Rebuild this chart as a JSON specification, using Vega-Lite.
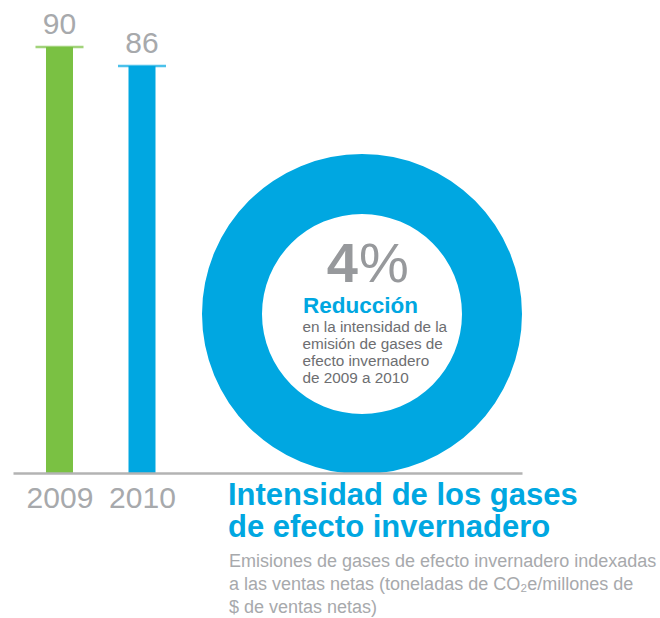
{
  "$schema": "https://vega.github.io/schema/vega-lite/v6.json",
  "width": 596,
  "height": 318,
  "autosize": {"type": "none"},
  "padding": {"left": 64, "top": 155, "right": 0, "bottom": 145},
  "background": "white",
  "config": {"view": {"stroke": null}, "font": "Liberation Sans"},
  "data": {
    "values": [
      {"kind": "bar", "year": 2009, "value": 90},
      {"kind": "bar", "year": 2010, "value": 86},
      {
        "kind": "ring",
        "pct": 4,
        "big": "4",
        "sign": "%",
        "head": "Reducción",
        "body": "en la intensidad de la\nemisión de gases de\nefecto invernadero\nde 2009 a 2010",
        "title": "Intensidad de los gases\nde efecto invernadero",
        "sub": "Emisiones de gases de efecto invernadero indexadas\na las ventas netas (toneladas de CO₂e/millones de\n$ de ventas netas)"
      }
    ]
  },
  "layer": [
    {
      "transform": [{"filter": "datum.kind === 'ring'"}],
      "mark": {"type": "arc", "radius": 160, "innerRadius": 100, "color": "#00a7e1"},
      "encoding": {
        "theta": {"field": "pct", "type": "quantitative"}
      }
    },
    {
      "transform": [{"filter": "datum.kind === 'bar'"}],
      "mark": {"type": "bar", "width": 27, "orient": "vertical"},
      "encoding": {
        "x": {
          "field": "year",
          "type": "quantitative",
          "scale": {"domain": [2008.4364, 2014.6061], "range": [-51, 458], "nice": false, "zero": false, "padding": 0},
          "axis": {
            "values": [2009, 2010],
            "format": "d",
            "title": null,
            "grid": false,
            "ticks": false,
            "tickSize": 0,
            "domain": true,
            "domainColor": "#b3b3b3",
            "domainWidth": 2.5,
            "labelFont": "Liberation Sans",
            "labelFontSize": 30,
            "labelColor": "#a7a9ac",
            "labelBaseline": "alphabetic",
            "labelAlign": "center",
            "labelPadding": 34,
            "labelFlush": false,
            "labelOverlap": false,
            "labelBound": false,
            "zindex": 1
          }
        },
        "y": {"field": "value", "type": "quantitative", "stack": null, "scale": {"domain": [0, 90], "range": [318, -108], "nice": false, "zero": true}, "axis": null},
        "color": {"field": "year", "type": "nominal", "scale": {"domain": [2009, 2010], "range": ["#7ac143", "#00a7e1"]}, "legend": null}
      }
    },
    {
      "transform": [{"filter": "datum.kind === 'bar'"}],
      "mark": {"type": "tick", "orient": "horizontal", "size": 48, "thickness": 2.5},
      "encoding": {
        "x": {"field": "year", "type": "quantitative"},
        "y": {"field": "value", "type": "quantitative"},
        "color": {"field": "year", "type": "nominal", "legend": null}
      }
    },
    {
      "transform": [{"filter": "datum.kind === 'bar'"}],
      "mark": {"type": "text", "fontSize": 30, "color": "#a7a9ac", "baseline": "alphabetic", "align": "center", "dy": -13},
      "encoding": {
        "x": {"field": "year", "type": "quantitative"},
        "y": {"field": "value", "type": "quantitative"},
        "text": {"field": "value", "type": "quantitative"}
      }
    },
    {
      "transform": [{"filter": "datum.kind === 'ring'"}],
      "mark": {"type": "text", "fontSize": 56, "fontWeight": "bold", "color": "#97999c", "baseline": "alphabetic", "align": "right", "dx": -4, "dy": -32},
      "encoding": {"text": {"field": "big", "type": "nominal"}}
    },
    {
      "transform": [{"filter": "datum.kind === 'ring'"}],
      "mark": {"type": "text", "fontSize": 56, "color": "#97999c", "baseline": "alphabetic", "align": "left", "dx": -3, "dy": -32},
      "encoding": {"text": {"field": "sign", "type": "nominal"}}
    },
    {
      "transform": [{"filter": "datum.kind === 'ring'"}],
      "mark": {"type": "text", "fontSize": 22.5, "fontWeight": "bold", "color": "#00a7e1", "baseline": "alphabetic", "align": "left", "dx": -59, "dy": -1},
      "encoding": {"text": {"field": "head", "type": "nominal"}}
    },
    {
      "transform": [{"filter": "datum.kind === 'ring'"}],
      "mark": {"type": "text", "fontSize": 15.3, "color": "#6d6e71", "baseline": "alphabetic", "align": "left", "lineBreak": "\n", "lineHeight": 17, "dx": -59.5, "dy": 18},
      "encoding": {"text": {"field": "body", "type": "nominal"}}
    },
    {
      "transform": [{"filter": "datum.kind === 'ring'"}],
      "mark": {"type": "text", "fontSize": 31, "fontWeight": "bold", "color": "#00a7e1", "baseline": "alphabetic", "align": "left", "lineBreak": "\n", "lineHeight": 32, "dx": -134, "dy": 191},
      "encoding": {"text": {"field": "title", "type": "nominal"}}
    },
    {
      "transform": [{"filter": "datum.kind === 'ring'"}],
      "mark": {"type": "text", "fontSize": 18, "color": "#a7a9ac", "baseline": "alphabetic", "align": "left", "lineBreak": "\n", "lineHeight": 23, "dx": -133, "dy": 252.7},
      "encoding": {"text": {"field": "sub", "type": "nominal"}}
    }
  ]
}
